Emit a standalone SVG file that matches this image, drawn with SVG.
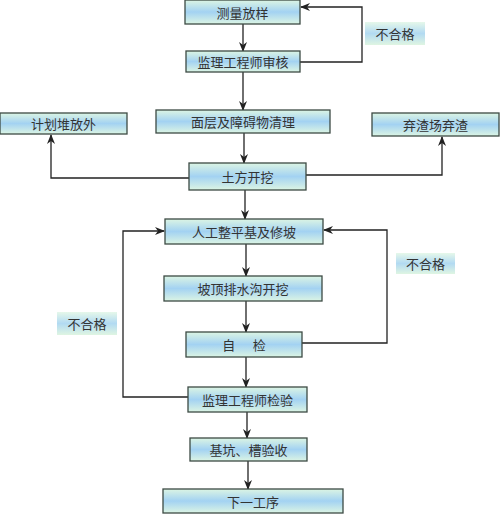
<svg xmlns="http://www.w3.org/2000/svg" width="500" height="515" viewBox="0 0 500 515">
<defs>
<linearGradient id="g" x1="0" y1="0" x2="0" y2="1">
<stop offset="0" stop-color="#dcf5e4"/>
<stop offset="0.5" stop-color="#a3d2f2"/>
<stop offset="1" stop-color="#dcf5e4"/>
</linearGradient>
<linearGradient id="gl" x1="0" y1="0" x2="0" y2="1">
<stop offset="0" stop-color="#e6f8ea"/>
<stop offset="0.5" stop-color="#b2daf2"/>
<stop offset="1" stop-color="#dff5e2"/>
</linearGradient>
<marker id="a" markerWidth="10" markerHeight="10" refX="9" refY="5" orient="auto" markerUnits="userSpaceOnUse">
<path d="M0,1 L10,5 L0,9 L3,5 Z" fill="#222"/>
</marker>
</defs>
<style>
.b{fill:url(#g);stroke:#3c4a44;stroke-width:1.3}
.l{fill:url(#gl)}
.t{font-family:"Noto Sans CJK SC","Noto Sans",sans-serif;font-size:13px;fill:#333;text-anchor:middle;dominant-baseline:central}
.c{fill:none;stroke:#222;stroke-width:1.3;marker-end:url(#a)}
.n{fill:none;stroke:#222;stroke-width:1.3}
</style>
<rect width="500" height="515" fill="#fff"/>
<g id="connectors">
<line class="c" x1="243" y1="24" x2="243" y2="51"/>
<line class="c" x1="243" y1="72" x2="243" y2="110"/>
<line class="c" x1="244" y1="133" x2="244" y2="163"/>
<line class="c" x1="245" y1="190" x2="245" y2="219"/>
<line class="c" x1="246" y1="244" x2="246" y2="276"/>
<line class="c" x1="246" y1="301" x2="246" y2="332"/>
<line class="c" x1="246" y1="357" x2="246" y2="387"/>
<line class="c" x1="247" y1="412" x2="247" y2="438"/>
<line class="c" x1="248" y1="461" x2="248" y2="489"/>
<polyline class="c" points="300,62 362,62 362,7 301,7"/>
<polyline class="c" points="189,178 51,178 51,135"/>
<polyline class="c" points="306,175 442,175 442,137"/>
<polyline class="c" points="302,343 387,343 387,230 324,230"/>
<polyline class="c" points="188,397 123,397 123,231 164,231"/>
</g>
<g id="n1"><rect class="b" x="185" y="0" width="115" height="24"/><text class="t" x="242.5" y="12">测量放样</text></g>
<g id="n2"><rect class="b" x="186" y="51" width="114" height="21"/><text class="t" x="243" y="61.5">监理工程师审核</text></g>
<g id="n3"><rect class="b" x="0" y="113" width="127" height="21"/><text class="t" x="63.5" y="123.5">计划堆放外</text></g>
<g id="n4"><rect class="b" x="156" y="110" width="174" height="23"/><text class="t" x="243" y="121.5">面层及障碍物清理</text></g>
<g id="n5"><rect class="b" x="372" y="113" width="127" height="23"/><text class="t" x="435.5" y="124.5">弃渣场弃渣</text></g>
<g id="n6"><rect class="b" x="189" y="163" width="117" height="27"/><text class="t" x="247.5" y="176.5">土方开挖</text></g>
<g id="n7"><rect class="b" x="165" y="219" width="158" height="25"/><text class="t" x="244" y="231.5">人工整平基及修坡</text></g>
<g id="n8"><rect class="b" x="164" y="276" width="158" height="25"/><text class="t" x="243" y="288.5">坡顶排水沟开挖</text></g>
<g id="n9"><rect class="b" x="186" y="332" width="116" height="25"/><text class="t" x="244" y="344.5" xml:space="preserve">自      检</text></g>
<g id="n10"><rect class="b" x="188" y="387" width="119" height="25"/><text class="t" x="247.5" y="399.5">监理工程师检验</text></g>
<g id="n11"><rect class="b" x="190" y="438" width="117" height="23"/><text class="t" x="248.5" y="449.5">基坑、槽验收</text></g>
<g id="n12"><rect class="b" x="163" y="489" width="180" height="24"/><text class="t" x="253" y="501">下一工序</text></g>
<g id="l1"><rect class="l" x="365" y="22" width="60" height="23"/><text class="t" x="395" y="33.5">不合格</text></g>
<g id="l2"><rect class="l" x="396" y="253" width="59" height="21"/><text class="t" x="425.5" y="263.5">不合格</text></g>
<g id="l3"><rect class="l" x="57" y="312" width="60" height="23"/><text class="t" x="87" y="323.5">不合格</text></g>
</svg>
